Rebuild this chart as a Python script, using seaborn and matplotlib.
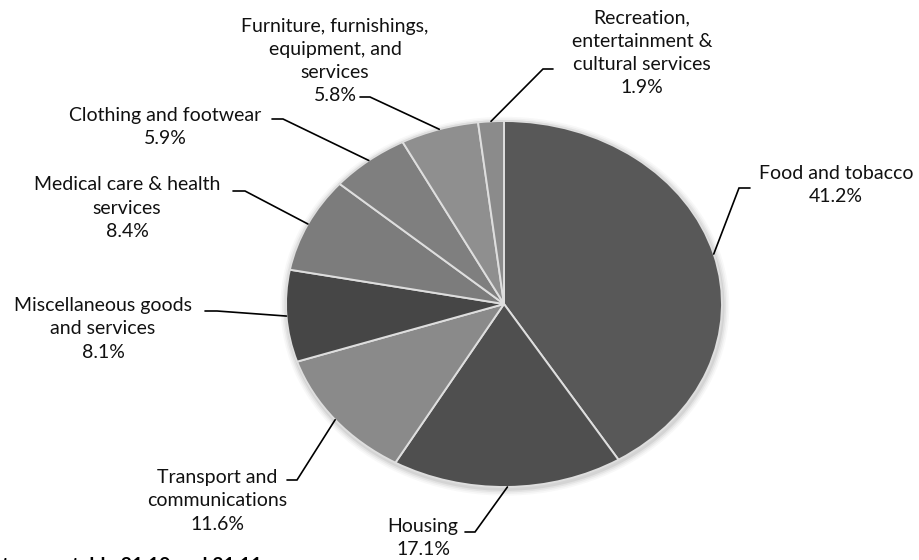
import matplotlib
matplotlib.use("Agg")
import numpy as np
import matplotlib.pyplot as plt
import seaborn as sns
from matplotlib.patches import Ellipse

# data
categories = [
    "Food and tobacco",
    "Housing",
    "Transport and\ncommunications",
    "Miscellaneous goods\nand services",
    "Medical care & health\nservices",
    "Clothing and footwear",
    "Furniture, furnishings,\nequipment, and\nservices",
    "Recreation,\nentertainment &\ncultural services",
]
shares = [41.2, 17.1, 11.6, 8.1, 8.4, 5.9, 5.8, 1.9]
greys = ["#585858", "#4f4f4f", "#8a8a8a", "#464646", "#7c7c7c", "#7f7f7f", "#8f8f8f", "#8b8b8b"]

# label layout in pixels: block centre (x, y) and the short elbow (x_text_side, x_joint, y)
label_pos = [(836, 185), (423, 538), (217, 501), (103, 329), (127, 208), (165, 127), (335, 61), (642, 53)]
elbows = [(750, 739, 188), (465, 475, 532), (287, 297, 480), (205, 217, 311),
          (233, 245, 191), (272, 283, 119), (360, 370, 97), (553, 543, 69)]

W, H = 919, 560
CX, CY, RX, RY = 504, 304, 218, 183


def px(x, y):
    return (x - CX) / RX, (CY - y) / RY


sns.set_theme(style="white")
plt.rcParams["font.family"] = ["Lato", "DejaVu Sans"]

fig = plt.figure(figsize=(W / 100, H / 100), dpi=100)
ax = fig.add_axes([0, 0, 1, 1])

# soft shadow round the pie
for i, a in enumerate([0.05, 0.07, 0.10, 0.14]):
    d = (4 - i) * 1.6
    ax.add_patch(Ellipse((0.004, -0.012), 2 + 2 * d / RX, 2 + 2 * d / RY,
                         facecolor="#7a7a7a", edgecolor="none", alpha=a, zorder=0))

wedges, _ = ax.pie(shares, colors=greys, startangle=90, counterclock=False,
                   wedgeprops=dict(edgecolor="#dedede", linewidth=1.4))
for w in wedges:
    w.set_zorder(2)

ax.set_aspect("auto")
ax.set_xlim(px(0, 0)[0], px(W, 0)[0])
ax.set_ylim(px(0, H)[1], px(0, 0)[1])
ax.axis("off")

for w, name, val, (tx, ty), (ex1, ex2, ey) in zip(wedges, categories, shares, label_pos, elbows):
    mid = np.deg2rad((w.theta1 + w.theta2) / 2)
    anchor = (np.cos(mid), np.sin(mid))
    x1, y1 = px(ex1, ey)
    x2, _ = px(ex2, ey)
    ax.plot([x1, x2, anchor[0]], [y1, y1, anchor[1]], color="black", lw=1.2,
            solid_joinstyle="miter", zorder=3)
    lx, ly = px(tx, ty)
    ax.text(lx, ly, f"{name}\n{val:.1f}%", ha="center", va="center",
            multialignment="center", fontsize=14, linespacing=1.45, color="#111111")

# source note, cut by the bottom edge as in the original
fig.text(2 / W, 1 - 557 / H, "tes: see table 21.10 and 21.11", ha="left", va="top",
         fontsize=14, fontweight="bold", color="black")

fig.savefig("out.png", dpi=100, facecolor="white")
